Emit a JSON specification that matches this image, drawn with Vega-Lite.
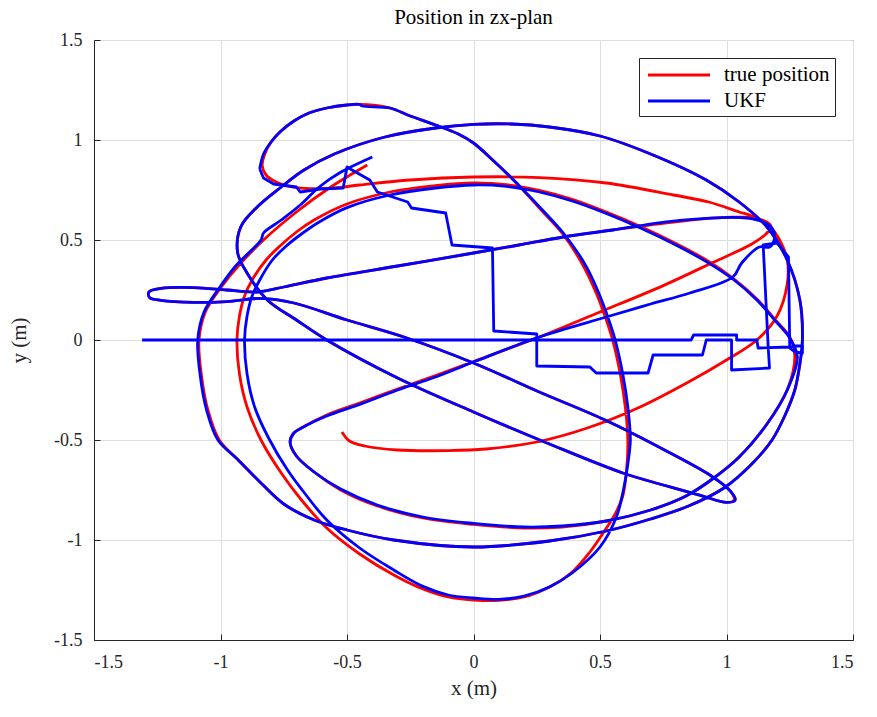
{
"$schema":"https://vega.github.io/schema/vega-lite/v6.json",
"width":759,"height":600,
"autosize":{"type":"none"},
"padding":{"left":94,"top":40,"right":24,"bottom":77},
"background":"white",
"title":{"text":"Position in zx-plan","font":"Liberation Serif","fontSize":21,"fontWeight":"normal","color":"#000000","offset":3},
"config":{
 "view":{"stroke":"#262626","strokeWidth":1},
 "axis":{"labelFont":"Liberation Serif","labelFontSize":18,"labelColor":"#262626","titleFont":"Liberation Serif","titleFontSize":21,"titleFontWeight":"normal","titleColor":"#262626","gridColor":"#dedede","domainColor":"#262626","tickColor":"#262626","tickSize":-6,"labelExpr":"toString(datum.value)"},
 "legend":{"orient":"top-right","offset":18,"title":null,"labelFont":"Liberation Serif","labelFontSize":21,"labelColor":"#000000","strokeColor":"#262626","fillColor":"white","padding":5,"symbolType":"M-3,0H3","symbolSize":427,"symbolStrokeWidth":3,"symbolOffset":23,"labelOffset":33,"rowPadding":4}
},
"datasets":{"pos":[
{"s":"true position","i":1,"x":-0.52,"y":-0.46},
{"s":"true position","i":2,"x":-0.49,"y":-0.505},
{"s":"true position","i":3,"x":-0.43,"y":-0.53},
{"s":"true position","i":4,"x":-0.3,"y":-0.55},
{"s":"true position","i":5,"x":-0.1,"y":-0.553},
{"s":"true position","i":6,"x":0.05,"y":-0.545},
{"s":"true position","i":7,"x":0.25,"y":-0.51},
{"s":"true position","i":8,"x":0.45,"y":-0.44},
{"s":"true position","i":9,"x":0.65,"y":-0.34},
{"s":"true position","i":10,"x":0.85,"y":-0.21},
{"s":"true position","i":11,"x":1.0,"y":-0.1},
{"s":"true position","i":12,"x":1.12,"y":0.0},
{"s":"true position","i":13,"x":1.2,"y":0.12},
{"s":"true position","i":14,"x":1.24,"y":0.28},
{"s":"true position","i":15,"x":1.24,"y":0.4},
{"s":"true position","i":16,"x":1.21,"y":0.5},
{"s":"true position","i":17,"x":1.17,"y":0.57},
{"s":"true position","i":18,"x":1.1,"y":0.62},
{"s":"true position","i":19,"x":1.05,"y":0.64},
{"s":"true position","i":20,"x":0.93,"y":0.69},
{"s":"true position","i":21,"x":0.79,"y":0.725},
{"s":"true position","i":22,"x":0.525,"y":0.785},
{"s":"true position","i":23,"x":0.26,"y":0.812},
{"s":"true position","i":24,"x":0.0,"y":0.815},
{"s":"true position","i":25,"x":-0.25,"y":0.8},
{"s":"true position","i":26,"x":-0.45,"y":0.775},
{"s":"true position","i":27,"x":-0.57,"y":0.758},
{"s":"true position","i":28,"x":-0.7,"y":0.762},
{"s":"true position","i":29,"x":-0.78,"y":0.79},
{"s":"true position","i":30,"x":-0.82,"y":0.825},
{"s":"true position","i":31,"x":-0.835,"y":0.87},
{"s":"true position","i":32,"x":-0.825,"y":0.93},
{"s":"true position","i":33,"x":-0.8,"y":0.99},
{"s":"true position","i":34,"x":-0.765,"y":1.04},
{"s":"true position","i":35,"x":-0.71,"y":1.095},
{"s":"true position","i":36,"x":-0.65,"y":1.135},
{"s":"true position","i":37,"x":-0.58,"y":1.16},
{"s":"true position","i":38,"x":-0.5,"y":1.175},
{"s":"true position","i":39,"x":-0.42,"y":1.177},
{"s":"true position","i":40,"x":-0.33,"y":1.16},
{"s":"true position","i":41,"x":-0.25,"y":1.12},
{"s":"true position","i":42,"x":-0.15,"y":1.075},
{"s":"true position","i":43,"x":-0.06,"y":1.03},
{"s":"true position","i":44,"x":0.0,"y":0.985},
{"s":"true position","i":45,"x":0.08,"y":0.895},
{"s":"true position","i":46,"x":0.17,"y":0.785},
{"s":"true position","i":47,"x":0.26,"y":0.66},
{"s":"true position","i":48,"x":0.35,"y":0.535},
{"s":"true position","i":49,"x":0.43,"y":0.38},
{"s":"true position","i":50,"x":0.485,"y":0.235},
{"s":"true position","i":51,"x":0.525,"y":0.1},
{"s":"true position","i":52,"x":0.55,"y":0.0},
{"s":"true position","i":53,"x":0.58,"y":-0.17},
{"s":"true position","i":54,"x":0.6,"y":-0.335},
{"s":"true position","i":55,"x":0.61,"y":-0.5},
{"s":"true position","i":56,"x":0.605,"y":-0.65},
{"s":"true position","i":57,"x":0.59,"y":-0.78},
{"s":"true position","i":58,"x":0.56,"y":-0.87},
{"s":"true position","i":59,"x":0.52,"y":-0.95},
{"s":"true position","i":60,"x":0.46,"y":-1.06},
{"s":"true position","i":61,"x":0.39,"y":-1.16},
{"s":"true position","i":62,"x":0.3,"y":-1.235},
{"s":"true position","i":63,"x":0.2,"y":-1.285},
{"s":"true position","i":64,"x":0.1,"y":-1.302},
{"s":"true position","i":65,"x":0.0,"y":-1.3},
{"s":"true position","i":66,"x":-0.1,"y":-1.285},
{"s":"true position","i":67,"x":-0.2,"y":-1.245},
{"s":"true position","i":68,"x":-0.315,"y":-1.175},
{"s":"true position","i":69,"x":-0.45,"y":-1.07},
{"s":"true position","i":70,"x":-0.58,"y":-0.94},
{"s":"true position","i":71,"x":-0.68,"y":-0.8},
{"s":"true position","i":72,"x":-0.76,"y":-0.665},
{"s":"true position","i":73,"x":-0.84,"y":-0.5},
{"s":"true position","i":74,"x":-0.895,"y":-0.335},
{"s":"true position","i":75,"x":-0.925,"y":-0.17},
{"s":"true position","i":76,"x":-0.935,"y":0.0},
{"s":"true position","i":77,"x":-0.925,"y":0.12},
{"s":"true position","i":78,"x":-0.905,"y":0.22},
{"s":"true position","i":79,"x":-0.875,"y":0.3},
{"s":"true position","i":80,"x":-0.82,"y":0.4},
{"s":"true position","i":81,"x":-0.765,"y":0.47},
{"s":"true position","i":82,"x":-0.7,"y":0.54},
{"s":"true position","i":83,"x":-0.63,"y":0.6},
{"s":"true position","i":84,"x":-0.5,"y":0.68},
{"s":"true position","i":85,"x":-0.33,"y":0.74},
{"s":"true position","i":86,"x":-0.15,"y":0.772},
{"s":"true position","i":87,"x":0.0,"y":0.785},
{"s":"true position","i":88,"x":0.13,"y":0.777},
{"s":"true position","i":89,"x":0.26,"y":0.748},
{"s":"true position","i":90,"x":0.39,"y":0.703},
{"s":"true position","i":91,"x":0.52,"y":0.642},
{"s":"true position","i":92,"x":0.66,"y":0.567},
{"s":"true position","i":93,"x":0.8,"y":0.482},
{"s":"true position","i":94,"x":0.92,"y":0.4},
{"s":"true position","i":95,"x":1.03,"y":0.305},
{"s":"true position","i":96,"x":1.12,"y":0.205},
{"s":"true position","i":97,"x":1.19,"y":0.105},
{"s":"true position","i":98,"x":1.25,"y":0.015},
{"s":"true position","i":99,"x":1.27,"y":-0.08},
{"s":"true position","i":100,"x":1.24,"y":-0.25},
{"s":"true position","i":101,"x":1.16,"y":-0.42},
{"s":"true position","i":102,"x":1.05,"y":-0.585},
{"s":"true position","i":103,"x":0.95,"y":-0.69},
{"s":"true position","i":104,"x":0.84,"y":-0.78},
{"s":"true position","i":105,"x":0.7,"y":-0.85},
{"s":"true position","i":106,"x":0.525,"y":-0.905},
{"s":"true position","i":107,"x":0.35,"y":-0.935},
{"s":"true position","i":108,"x":0.2,"y":-0.94},
{"s":"true position","i":109,"x":0.0,"y":-0.922},
{"s":"true position","i":110,"x":-0.2,"y":-0.89},
{"s":"true position","i":111,"x":-0.38,"y":-0.83},
{"s":"true position","i":112,"x":-0.525,"y":-0.75},
{"s":"true position","i":113,"x":-0.63,"y":-0.66},
{"s":"true position","i":114,"x":-0.7,"y":-0.58},
{"s":"true position","i":115,"x":-0.725,"y":-0.51},
{"s":"true position","i":116,"x":-0.71,"y":-0.465},
{"s":"true position","i":117,"x":-0.68,"y":-0.44},
{"s":"true position","i":118,"x":-0.58,"y":-0.375},
{"s":"true position","i":119,"x":-0.45,"y":-0.315},
{"s":"true position","i":120,"x":-0.3,"y":-0.245},
{"s":"true position","i":121,"x":-0.15,"y":-0.178},
{"s":"true position","i":122,"x":0.0,"y":-0.108},
{"s":"true position","i":123,"x":0.26,"y":0.015},
{"s":"true position","i":124,"x":0.5,"y":0.14},
{"s":"true position","i":125,"x":0.75,"y":0.272},
{"s":"true position","i":126,"x":0.95,"y":0.39},
{"s":"true position","i":127,"x":1.1,"y":0.48},
{"s":"true position","i":128,"x":1.16,"y":0.535},
{"s":"true position","i":129,"x":1.175,"y":0.572},
{"s":"true position","i":130,"x":1.12,"y":0.608},
{"s":"true position","i":131,"x":1.0,"y":0.613},
{"s":"true position","i":132,"x":0.79,"y":0.59},
{"s":"true position","i":133,"x":0.55,"y":0.55},
{"s":"true position","i":134,"x":0.355,"y":0.515},
{"s":"true position","i":135,"x":0.18,"y":0.475},
{"s":"true position","i":136,"x":0.0,"y":0.435},
{"s":"true position","i":137,"x":-0.3,"y":0.37},
{"s":"true position","i":138,"x":-0.58,"y":0.31},
{"s":"true position","i":139,"x":-0.75,"y":0.265},
{"s":"true position","i":140,"x":-0.86,"y":0.24},
{"s":"true position","i":141,"x":-0.975,"y":0.25},
{"s":"true position","i":142,"x":-1.105,"y":0.262},
{"s":"true position","i":143,"x":-1.235,"y":0.258},
{"s":"true position","i":144,"x":-1.283,"y":0.24},
{"s":"true position","i":145,"x":-1.28,"y":0.212},
{"s":"true position","i":146,"x":-1.235,"y":0.198},
{"s":"true position","i":147,"x":-1.105,"y":0.188},
{"s":"true position","i":148,"x":-0.975,"y":0.192},
{"s":"true position","i":149,"x":-0.84,"y":0.208},
{"s":"true position","i":150,"x":-0.71,"y":0.185},
{"s":"true position","i":151,"x":-0.5,"y":0.1},
{"s":"true position","i":152,"x":-0.275,"y":0.015},
{"s":"true position","i":153,"x":0.0,"y":-0.115},
{"s":"true position","i":154,"x":0.26,"y":-0.26},
{"s":"true position","i":155,"x":0.52,"y":-0.4},
{"s":"true position","i":156,"x":0.77,"y":-0.56},
{"s":"true position","i":157,"x":0.94,"y":-0.68},
{"s":"true position","i":158,"x":1.015,"y":-0.755},
{"s":"true position","i":159,"x":1.03,"y":-0.8},
{"s":"true position","i":160,"x":1.0,"y":-0.812},
{"s":"true position","i":161,"x":0.9,"y":-0.778},
{"s":"true position","i":162,"x":0.75,"y":-0.725},
{"s":"true position","i":163,"x":0.59,"y":-0.665},
{"s":"true position","i":164,"x":0.3,"y":-0.52},
{"s":"true position","i":165,"x":0.0,"y":-0.36},
{"s":"true position","i":166,"x":-0.3,"y":-0.19},
{"s":"true position","i":167,"x":-0.58,"y":0.0},
{"s":"true position","i":168,"x":-0.7,"y":0.1},
{"s":"true position","i":169,"x":-0.815,"y":0.2},
{"s":"true position","i":170,"x":-0.895,"y":0.335},
{"s":"true position","i":171,"x":-0.932,"y":0.435},
{"s":"true position","i":172,"x":-0.92,"y":0.565},
{"s":"true position","i":173,"x":-0.855,"y":0.665},
{"s":"true position","i":174,"x":-0.76,"y":0.765},
{"s":"true position","i":175,"x":-0.67,"y":0.85},
{"s":"true position","i":176,"x":-0.55,"y":0.93},
{"s":"true position","i":177,"x":-0.35,"y":1.015},
{"s":"true position","i":178,"x":-0.15,"y":1.06},
{"s":"true position","i":179,"x":0.0,"y":1.078},
{"s":"true position","i":180,"x":0.15,"y":1.08},
{"s":"true position","i":181,"x":0.3,"y":1.065},
{"s":"true position","i":182,"x":0.5,"y":1.02},
{"s":"true position","i":183,"x":0.7,"y":0.93},
{"s":"true position","i":184,"x":0.92,"y":0.8},
{"s":"true position","i":185,"x":1.05,"y":0.69},
{"s":"true position","i":186,"x":1.16,"y":0.565},
{"s":"true position","i":187,"x":1.24,"y":0.4},
{"s":"true position","i":188,"x":1.29,"y":0.2},
{"s":"true position","i":189,"x":1.3,"y":0.0},
{"s":"true position","i":190,"x":1.29,"y":-0.12},
{"s":"true position","i":191,"x":1.27,"y":-0.25},
{"s":"true position","i":192,"x":1.23,"y":-0.38},
{"s":"true position","i":193,"x":1.18,"y":-0.5},
{"s":"true position","i":194,"x":1.1,"y":-0.62},
{"s":"true position","i":195,"x":0.99,"y":-0.74},
{"s":"true position","i":196,"x":0.85,"y":-0.83},
{"s":"true position","i":197,"x":0.7,"y":-0.895},
{"s":"true position","i":198,"x":0.525,"y":-0.955},
{"s":"true position","i":199,"x":0.3,"y":-1.005},
{"s":"true position","i":200,"x":0.0,"y":-1.035},
{"s":"true position","i":201,"x":-0.315,"y":-1.0},
{"s":"true position","i":202,"x":-0.5,"y":-0.95},
{"s":"true position","i":203,"x":-0.63,"y":-0.9},
{"s":"true position","i":204,"x":-0.75,"y":-0.82},
{"s":"true position","i":205,"x":-0.84,"y":-0.715},
{"s":"true position","i":206,"x":-0.93,"y":-0.6},
{"s":"true position","i":207,"x":-1.005,"y":-0.5},
{"s":"true position","i":208,"x":-1.05,"y":-0.35},
{"s":"true position","i":209,"x":-1.075,"y":-0.18},
{"s":"true position","i":210,"x":-1.085,"y":0.0},
{"s":"true position","i":211,"x":-1.06,"y":0.14},
{"s":"true position","i":212,"x":-1.0,"y":0.26},
{"s":"true position","i":213,"x":-0.93,"y":0.37},
{"s":"true position","i":214,"x":-0.83,"y":0.5},
{"s":"true position","i":215,"x":-0.7,"y":0.64},
{"s":"true position","i":216,"x":-0.57,"y":0.76},
{"s":"true position","i":217,"x":-0.42,"y":0.875},
{"s":"UKF","i":1,"x":-1.31,"y":0},
{"s":"UKF","i":2,"x":0.66,"y":0},
{"s":"UKF","i":3,"x":0.86,"y":0},
{"s":"UKF","i":4,"x":0.87,"y":0.025},
{"s":"UKF","i":5,"x":1.04,"y":0.025},
{"s":"UKF","i":6,"x":1.04,"y":0},
{"s":"UKF","i":7,"x":1.12,"y":0},
{"s":"UKF","i":8,"x":1.125,"y":-0.04},
{"s":"UKF","i":9,"x":1.245,"y":-0.035},
{"s":"UKF","i":10,"x":1.27,"y":-0.06},
{"s":"UKF","i":11,"x":1.3,"y":-0.065},
{"s":"UKF","i":12,"x":1.3,"y":-0.03},
{"s":"UKF","i":13,"x":1.265,"y":-0.03},
{"s":"UKF","i":14,"x":1.25,"y":-0.04},
{"s":"UKF","i":15,"x":1.245,"y":0.415},
{"s":"UKF","i":16,"x":1.2,"y":0.485},
{"s":"UKF","i":17,"x":1.145,"y":0.475},
{"s":"UKF","i":18,"x":1.165,"y":-0.04},
{"s":"UKF","i":19,"x":1.17,"y":-0.14},
{"s":"UKF","i":20,"x":1.02,"y":-0.15},
{"s":"UKF","i":21,"x":1.02,"y":0},
{"s":"UKF","i":22,"x":0.92,"y":0},
{"s":"UKF","i":23,"x":0.905,"y":-0.075},
{"s":"UKF","i":24,"x":0.71,"y":-0.075},
{"s":"UKF","i":25,"x":0.69,"y":-0.165},
{"s":"UKF","i":26,"x":0.485,"y":-0.165},
{"s":"UKF","i":27,"x":0.46,"y":-0.135},
{"s":"UKF","i":28,"x":0.25,"y":-0.13},
{"s":"UKF","i":29,"x":0.25,"y":0.03},
{"s":"UKF","i":30,"x":0.08,"y":0.045},
{"s":"UKF","i":31,"x":0.075,"y":0.46},
{"s":"UKF","i":32,"x":-0.085,"y":0.475},
{"s":"UKF","i":33,"x":-0.11,"y":0.635},
{"s":"UKF","i":34,"x":-0.245,"y":0.66},
{"s":"UKF","i":35,"x":-0.26,"y":0.69},
{"s":"UKF","i":36,"x":-0.38,"y":0.74},
{"s":"UKF","i":37,"x":-0.41,"y":0.8},
{"s":"UKF","i":38,"x":-0.48,"y":0.85},
{"s":"UKF","i":39,"x":-0.5,"y":0.865},
{"s":"UKF","i":40,"x":-0.515,"y":0.76},
{"s":"UKF","i":41,"x":-0.605,"y":0.755},
{"s":"UKF","i":42,"x":-0.685,"y":0.74},
{"s":"UKF","i":43,"x":-0.7,"y":0.765},
{"s":"UKF","i":44,"x":-0.79,"y":0.78},
{"s":"UKF","i":45,"x":-0.83,"y":0.81},
{"s":"UKF","i":46,"x":-0.845,"y":0.855},
{"s":"UKF","i":47,"x":-0.83,"y":0.93},
{"s":"UKF","i":48,"x":-0.8,"y":0.99},
{"s":"UKF","i":49,"x":-0.765,"y":1.04},
{"s":"UKF","i":50,"x":-0.71,"y":1.095},
{"s":"UKF","i":51,"x":-0.65,"y":1.135},
{"s":"UKF","i":52,"x":-0.58,"y":1.16},
{"s":"UKF","i":53,"x":-0.5,"y":1.175},
{"s":"UKF","i":54,"x":-0.45,"y":1.178},
{"s":"UKF","i":55,"x":-0.44,"y":1.17},
{"s":"UKF","i":56,"x":-0.33,"y":1.16},
{"s":"UKF","i":57,"x":-0.25,"y":1.12},
{"s":"UKF","i":58,"x":-0.15,"y":1.075},
{"s":"UKF","i":59,"x":-0.06,"y":1.03},
{"s":"UKF","i":60,"x":0.0,"y":0.985},
{"s":"UKF","i":61,"x":0.08,"y":0.895},
{"s":"UKF","i":62,"x":0.17,"y":0.785},
{"s":"UKF","i":63,"x":0.265,"y":0.66},
{"s":"UKF","i":64,"x":0.355,"y":0.535},
{"s":"UKF","i":65,"x":0.44,"y":0.38},
{"s":"UKF","i":66,"x":0.495,"y":0.235},
{"s":"UKF","i":67,"x":0.535,"y":0.1},
{"s":"UKF","i":68,"x":0.56,"y":0.0},
{"s":"UKF","i":69,"x":0.59,"y":-0.17},
{"s":"UKF","i":70,"x":0.61,"y":-0.335},
{"s":"UKF","i":71,"x":0.62,"y":-0.5},
{"s":"UKF","i":72,"x":0.61,"y":-0.62},
{"s":"UKF","i":73,"x":0.6,"y":-0.7},
{"s":"UKF","i":74,"x":0.59,"y":-0.765},
{"s":"UKF","i":75,"x":0.565,"y":-0.885},
{"s":"UKF","i":76,"x":0.5,"y":-1.035},
{"s":"UKF","i":77,"x":0.39,"y":-1.165},
{"s":"UKF","i":78,"x":0.3,"y":-1.235},
{"s":"UKF","i":79,"x":0.2,"y":-1.28},
{"s":"UKF","i":80,"x":0.1,"y":-1.297},
{"s":"UKF","i":81,"x":0.0,"y":-1.29},
{"s":"UKF","i":82,"x":-0.1,"y":-1.275},
{"s":"UKF","i":83,"x":-0.2,"y":-1.232},
{"s":"UKF","i":84,"x":-0.315,"y":-1.15},
{"s":"UKF","i":85,"x":-0.45,"y":-1.04},
{"s":"UKF","i":86,"x":-0.58,"y":-0.9},
{"s":"UKF","i":87,"x":-0.665,"y":-0.77},
{"s":"UKF","i":88,"x":-0.735,"y":-0.65},
{"s":"UKF","i":89,"x":-0.81,"y":-0.49},
{"s":"UKF","i":90,"x":-0.865,"y":-0.335},
{"s":"UKF","i":91,"x":-0.895,"y":-0.17},
{"s":"UKF","i":92,"x":-0.905,"y":0.0},
{"s":"UKF","i":93,"x":-0.895,"y":0.12},
{"s":"UKF","i":94,"x":-0.875,"y":0.22},
{"s":"UKF","i":95,"x":-0.845,"y":0.3},
{"s":"UKF","i":96,"x":-0.795,"y":0.4},
{"s":"UKF","i":97,"x":-0.74,"y":0.47},
{"s":"UKF","i":98,"x":-0.68,"y":0.53},
{"s":"UKF","i":99,"x":-0.61,"y":0.59},
{"s":"UKF","i":100,"x":-0.5,"y":0.662},
{"s":"UKF","i":101,"x":-0.33,"y":0.725},
{"s":"UKF","i":102,"x":-0.15,"y":0.76},
{"s":"UKF","i":103,"x":0.0,"y":0.775},
{"s":"UKF","i":104,"x":0.13,"y":0.768},
{"s":"UKF","i":105,"x":0.26,"y":0.74},
{"s":"UKF","i":106,"x":0.39,"y":0.695},
{"s":"UKF","i":107,"x":0.52,"y":0.635},
{"s":"UKF","i":108,"x":0.66,"y":0.56},
{"s":"UKF","i":109,"x":0.8,"y":0.475},
{"s":"UKF","i":110,"x":0.92,"y":0.392},
{"s":"UKF","i":111,"x":1.03,"y":0.3},
{"s":"UKF","i":112,"x":1.12,"y":0.2},
{"s":"UKF","i":113,"x":1.19,"y":0.1},
{"s":"UKF","i":114,"x":1.25,"y":0.01},
{"s":"UKF","i":115,"x":1.28,"y":-0.085},
{"s":"UKF","i":116,"x":1.24,"y":-0.25},
{"s":"UKF","i":117,"x":1.16,"y":-0.42},
{"s":"UKF","i":118,"x":1.05,"y":-0.585},
{"s":"UKF","i":119,"x":0.95,"y":-0.69},
{"s":"UKF","i":120,"x":0.84,"y":-0.78},
{"s":"UKF","i":121,"x":0.7,"y":-0.85},
{"s":"UKF","i":122,"x":0.525,"y":-0.905},
{"s":"UKF","i":123,"x":0.35,"y":-0.93},
{"s":"UKF","i":124,"x":0.2,"y":-0.935},
{"s":"UKF","i":125,"x":0.0,"y":-0.917},
{"s":"UKF","i":126,"x":-0.2,"y":-0.885},
{"s":"UKF","i":127,"x":-0.38,"y":-0.825},
{"s":"UKF","i":128,"x":-0.525,"y":-0.745},
{"s":"UKF","i":129,"x":-0.63,"y":-0.66},
{"s":"UKF","i":130,"x":-0.7,"y":-0.58},
{"s":"UKF","i":131,"x":-0.725,"y":-0.51},
{"s":"UKF","i":132,"x":-0.71,"y":-0.465},
{"s":"UKF","i":133,"x":-0.68,"y":-0.44},
{"s":"UKF","i":134,"x":-0.58,"y":-0.38},
{"s":"UKF","i":135,"x":-0.45,"y":-0.322},
{"s":"UKF","i":136,"x":-0.3,"y":-0.25},
{"s":"UKF","i":137,"x":-0.15,"y":-0.185},
{"s":"UKF","i":138,"x":0.0,"y":-0.11},
{"s":"UKF","i":139,"x":0.26,"y":0.015},
{"s":"UKF","i":140,"x":0.525,"y":0.115},
{"s":"UKF","i":141,"x":0.7,"y":0.18},
{"s":"UKF","i":142,"x":0.855,"y":0.235},
{"s":"UKF","i":143,"x":1.025,"y":0.315},
{"s":"UKF","i":144,"x":1.06,"y":0.385},
{"s":"UKF","i":145,"x":1.13,"y":0.465},
{"s":"UKF","i":146,"x":1.17,"y":0.465},
{"s":"UKF","i":147,"x":1.19,"y":0.51},
{"s":"UKF","i":148,"x":1.18,"y":0.56},
{"s":"UKF","i":149,"x":1.145,"y":0.59},
{"s":"UKF","i":150,"x":1.08,"y":0.61},
{"s":"UKF","i":151,"x":0.815,"y":0.598},
{"s":"UKF","i":152,"x":0.55,"y":0.55},
{"s":"UKF","i":153,"x":0.355,"y":0.515},
{"s":"UKF","i":154,"x":0.18,"y":0.475},
{"s":"UKF","i":155,"x":0.0,"y":0.435},
{"s":"UKF","i":156,"x":-0.3,"y":0.37},
{"s":"UKF","i":157,"x":-0.58,"y":0.31},
{"s":"UKF","i":158,"x":-0.75,"y":0.265},
{"s":"UKF","i":159,"x":-0.86,"y":0.24},
{"s":"UKF","i":160,"x":-0.975,"y":0.25},
{"s":"UKF","i":161,"x":-1.105,"y":0.262},
{"s":"UKF","i":162,"x":-1.235,"y":0.258},
{"s":"UKF","i":163,"x":-1.283,"y":0.24},
{"s":"UKF","i":164,"x":-1.28,"y":0.212},
{"s":"UKF","i":165,"x":-1.235,"y":0.198},
{"s":"UKF","i":166,"x":-1.105,"y":0.188},
{"s":"UKF","i":167,"x":-0.975,"y":0.192},
{"s":"UKF","i":168,"x":-0.84,"y":0.208},
{"s":"UKF","i":169,"x":-0.71,"y":0.185},
{"s":"UKF","i":170,"x":-0.5,"y":0.1},
{"s":"UKF","i":171,"x":-0.275,"y":0.015},
{"s":"UKF","i":172,"x":0.0,"y":-0.115},
{"s":"UKF","i":173,"x":0.26,"y":-0.26},
{"s":"UKF","i":174,"x":0.52,"y":-0.4},
{"s":"UKF","i":175,"x":0.77,"y":-0.56},
{"s":"UKF","i":176,"x":0.94,"y":-0.68},
{"s":"UKF","i":177,"x":1.015,"y":-0.755},
{"s":"UKF","i":178,"x":1.035,"y":-0.8},
{"s":"UKF","i":179,"x":1.0,"y":-0.812},
{"s":"UKF","i":180,"x":0.9,"y":-0.778},
{"s":"UKF","i":181,"x":0.75,"y":-0.725},
{"s":"UKF","i":182,"x":0.59,"y":-0.665},
{"s":"UKF","i":183,"x":0.3,"y":-0.52},
{"s":"UKF","i":184,"x":0.0,"y":-0.36},
{"s":"UKF","i":185,"x":-0.3,"y":-0.19},
{"s":"UKF","i":186,"x":-0.58,"y":0.0},
{"s":"UKF","i":187,"x":-0.7,"y":0.1},
{"s":"UKF","i":188,"x":-0.815,"y":0.2},
{"s":"UKF","i":189,"x":-0.895,"y":0.335},
{"s":"UKF","i":190,"x":-0.932,"y":0.435},
{"s":"UKF","i":191,"x":-0.92,"y":0.565},
{"s":"UKF","i":192,"x":-0.855,"y":0.665},
{"s":"UKF","i":193,"x":-0.76,"y":0.765},
{"s":"UKF","i":194,"x":-0.67,"y":0.85},
{"s":"UKF","i":195,"x":-0.55,"y":0.93},
{"s":"UKF","i":196,"x":-0.35,"y":1.015},
{"s":"UKF","i":197,"x":-0.15,"y":1.06},
{"s":"UKF","i":198,"x":0.0,"y":1.078},
{"s":"UKF","i":199,"x":0.15,"y":1.08},
{"s":"UKF","i":200,"x":0.3,"y":1.065},
{"s":"UKF","i":201,"x":0.5,"y":1.02},
{"s":"UKF","i":202,"x":0.7,"y":0.93},
{"s":"UKF","i":203,"x":0.92,"y":0.8},
{"s":"UKF","i":204,"x":1.05,"y":0.69},
{"s":"UKF","i":205,"x":1.16,"y":0.565},
{"s":"UKF","i":206,"x":1.24,"y":0.4},
{"s":"UKF","i":207,"x":1.29,"y":0.2},
{"s":"UKF","i":208,"x":1.3,"y":0.0},
{"s":"UKF","i":209,"x":1.29,"y":-0.12},
{"s":"UKF","i":210,"x":1.27,"y":-0.25},
{"s":"UKF","i":211,"x":1.23,"y":-0.38},
{"s":"UKF","i":212,"x":1.18,"y":-0.5},
{"s":"UKF","i":213,"x":1.1,"y":-0.62},
{"s":"UKF","i":214,"x":0.99,"y":-0.74},
{"s":"UKF","i":215,"x":0.85,"y":-0.83},
{"s":"UKF","i":216,"x":0.7,"y":-0.895},
{"s":"UKF","i":217,"x":0.525,"y":-0.955},
{"s":"UKF","i":218,"x":0.3,"y":-1.005},
{"s":"UKF","i":219,"x":0.0,"y":-1.035},
{"s":"UKF","i":220,"x":-0.315,"y":-1.0},
{"s":"UKF","i":221,"x":-0.5,"y":-0.95},
{"s":"UKF","i":222,"x":-0.63,"y":-0.9},
{"s":"UKF","i":223,"x":-0.75,"y":-0.82},
{"s":"UKF","i":224,"x":-0.84,"y":-0.715},
{"s":"UKF","i":225,"x":-0.93,"y":-0.6},
{"s":"UKF","i":226,"x":-1.01,"y":-0.5},
{"s":"UKF","i":227,"x":-1.055,"y":-0.35},
{"s":"UKF","i":228,"x":-1.08,"y":-0.18},
{"s":"UKF","i":229,"x":-1.09,"y":0.0},
{"s":"UKF","i":230,"x":-1.065,"y":0.14},
{"s":"UKF","i":231,"x":-1.005,"y":0.26},
{"s":"UKF","i":232,"x":-0.94,"y":0.37},
{"s":"UKF","i":233,"x":-0.84,"y":0.5},
{"s":"UKF","i":234,"x":-0.83,"y":0.535},
{"s":"UKF","i":235,"x":-0.76,"y":0.6},
{"s":"UKF","i":236,"x":-0.68,"y":0.68},
{"s":"UKF","i":237,"x":-0.61,"y":0.765},
{"s":"UKF","i":238,"x":-0.53,"y":0.835},
{"s":"UKF","i":239,"x":-0.4,"y":0.915}
]},
"data":{"name":"pos"},
"encoding":{
 "x":{"field":"x","type":"quantitative","scale":{"domain":[-1.5,1.5],"nice":false,"zero":false},"axis":{"title":"x (m)","values":[-1.5,-1,-0.5,0,0.5,1,1.5],"grid":true,"labelPadding":19,"titlePadding":6}},
 "y":{"field":"y","type":"quantitative","scale":{"domain":[-1.5,1.5],"nice":false,"zero":false},"axis":{"title":"y (m)","values":[-1.5,-1,-0.5,0,0.5,1,1.5],"grid":true,"labelPadding":18,"titlePadding":24}},
 "order":{"field":"i","type":"quantitative"},
 "color":{"field":"s","type":"nominal","scale":{"domain":["true position","UKF"],"range":["#ff0000","#0000ff"]}}
},
"layer":[
 {"transform":[{"filter":"datum.s == 'true position'"}],"mark":{"type":"line","strokeWidth":2.8,"strokeJoin":"round","interpolate":"catmull-rom","clip":true}},
 {"transform":[{"filter":"datum.s == 'UKF' && datum.i <= 46"}],"mark":{"type":"line","strokeWidth":2.8,"strokeJoin":"round","clip":true}},
 {"transform":[{"filter":"datum.s == 'UKF' && datum.i >= 46"}],"mark":{"type":"line","strokeWidth":2.8,"strokeJoin":"round","interpolate":"catmull-rom","clip":true}}
]
}
